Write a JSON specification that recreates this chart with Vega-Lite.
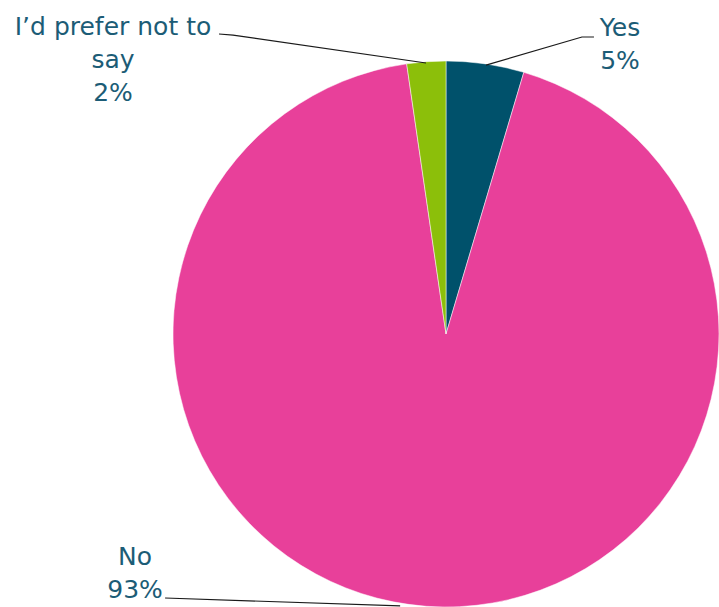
{
  "$schema": "https://vega.github.io/schema/vega-lite/v6.json",
  "width": 546,
  "height": 546,
  "autosize": {"type": "none"},
  "padding": {"left": 173, "top": 61, "right": 0, "bottom": 0},
  "background": "white",
  "config": {"view": {"stroke": null}},
  "datasets": {
    "slices": [
      {"answer": "Yes", "pct": 4.6, "k": 1},
      {"answer": "No", "pct": 93.1, "k": 2},
      {"answer": "I’d prefer not to say", "pct": 2.3, "k": 3}
    ],
    "labels": [
      {"text": "I’d prefer not to\nsay\n2%", "u": -1.2198, "v": 1.0952},
      {"text": "Yes\n5%", "u": 0.6374, "v": 1.0916},
      {"text": "No\n93%", "u": -1.139, "v": -0.846}
    ],
    "leaders": [
      {"line": "prefer", "p": 1, "u": -0.8315, "v": 1.0989},
      {"line": "prefer", "p": 2, "u": -0.780, "v": 1.095},
      {"line": "prefer", "p": 3, "u": -0.0733, "v": 0.9927},
      {"line": "yes", "p": 1, "u": 0.542, "v": 1.088},
      {"line": "yes", "p": 2, "u": 0.498, "v": 1.088},
      {"line": "yes", "p": 3, "u": 0.1465, "v": 0.985},
      {"line": "no", "p": 1, "u": -1.029, "v": -0.967},
      {"line": "no", "p": 2, "u": -0.168, "v": -0.996}
    ]
  },
  "layer": [
    {
      "data": {"name": "slices"},
      "mark": {"type": "arc", "outerRadius": 273, "stroke": "white", "strokeWidth": 0.5},
      "encoding": {
        "theta": {"field": "pct", "type": "quantitative", "stack": true},
        "order": {"field": "k", "type": "quantitative"},
        "color": {
          "field": "answer",
          "type": "nominal",
          "scale": {"domain": ["Yes", "No", "I’d prefer not to say"], "range": ["#00516B", "#E8409A", "#8CBF0A"]},
          "legend": null
        }
      }
    },
    {
      "data": {"name": "leaders"},
      "mark": {"type": "line", "stroke": "#1a1a1a", "strokeWidth": 1.2, "interpolate": "linear"},
      "encoding": {
        "x": {"field": "u", "type": "quantitative", "scale": {"domain": [-1, 1], "nice": false, "zero": false}, "axis": null},
        "y": {"field": "v", "type": "quantitative", "scale": {"domain": [-1, 1], "nice": false, "zero": false}, "axis": null},
        "detail": {"field": "line", "type": "nominal"},
        "order": {"field": "p", "type": "quantitative"}
      }
    },
    {
      "data": {"name": "labels"},
      "mark": {"type": "text", "align": "center", "baseline": "alphabetic", "lineBreak": "\n", "lineHeight": 33, "font": "DejaVu Sans", "fontSize": 25, "color": "#1C5C76"},
      "encoding": {
        "x": {"field": "u", "type": "quantitative", "scale": {"domain": [-1, 1], "nice": false, "zero": false}, "axis": null},
        "y": {"field": "v", "type": "quantitative", "scale": {"domain": [-1, 1], "nice": false, "zero": false}, "axis": null},
        "text": {"field": "text", "type": "nominal"}
      }
    }
  ]
}
